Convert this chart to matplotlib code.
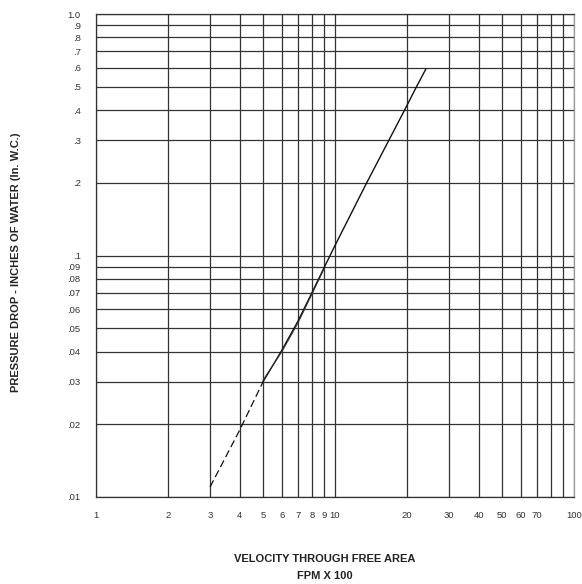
import matplotlib
matplotlib.use("Agg")
import matplotlib.pyplot as plt
from matplotlib.ticker import FixedLocator, NullLocator

plt.rcParams['font.family'] = ['Liberation Sans', 'DejaVu Sans']

# Data
dashed_x = [3.0, 4.0, 5.0]
dashed_y = [0.011, 0.019, 0.030]
solid_x = [5.0, 6.0, 7.0, 8.0, 9.0, 10.0, 13.5, 16.8, 19.6, 22.0, 24.0]
solid_y = [0.030, 0.0406, 0.0535, 0.0700, 0.0890, 0.110, 0.198, 0.300, 0.402, 0.503, 0.592]
second_x = [5.0, 6.0, 7.0, 8.0, 9.0]
second_y = [0.0305, 0.0400, 0.0525, 0.0690, 0.0880]

x_ticks = [1, 2, 3, 4, 5, 6, 7, 8, 9, 10, 20, 30, 40, 50, 60, 70, 80, 90, 100]
x_labels = ['1', '2', '3', '4', '5', '6', '7', '8', '9', '10', '20', '30', '40', '50', '60', '70', '', '', '100']
y_ticks = [0.01, 0.02, 0.03, 0.04, 0.05, 0.06, 0.07, 0.08, 0.09,
           0.1, 0.2, 0.3, 0.4, 0.5, 0.6, 0.7, 0.8, 0.9, 1.0]
y_labels = ['.01', '.02', '.03', '.04', '.05', '.06', '.07', '.08', '.09',
            '.1', '.2', '.3', '.4', '.5', '.6', '.7', '.8', '.9', '1.0']

fig = plt.figure(figsize=(5.82, 5.84), dpi=100)
W, H = 582, 584
ax = fig.add_axes([96 / W, 1 - 497 / H, (574 - 96) / W, (497 - 14) / H])
ax.set_xscale('log')
ax.set_yscale('log')
ax.set_xlim(1, 100)
ax.set_ylim(0.01, 1.0)

grid_color = '#333333'
ax.xaxis.set_major_locator(FixedLocator(x_ticks))
ax.xaxis.set_minor_locator(NullLocator())
ax.yaxis.set_major_locator(FixedLocator(y_ticks))
ax.yaxis.set_minor_locator(NullLocator())
ax.set_xticklabels(x_labels)
ax.set_yticklabels(y_labels)
ax.tick_params(axis='both', which='both', length=0, labelsize=6.8, colors='#333333')
ax.tick_params(axis='x', pad=10)
ax.tick_params(axis='y', pad=11)
ax.grid(True, which='major', color=grid_color, linewidth=0.9)
for s in ax.spines.values():
    s.set_color(grid_color)
    s.set_linewidth(0.9)
ax.spines['right'].set_color('#999999')

ax.plot(dashed_x, dashed_y, color='#111111', linewidth=0.9, linestyle=(0, (6, 3)), zorder=3)
ax.plot(solid_x, solid_y, color='#111111', linewidth=1.0, zorder=3)
ax.plot(second_x, second_y, color='#333333', linewidth=0.7, zorder=3)

fig.text(325 / W, 1 - 559 / H, 'VELOCITY THROUGH FREE AREA', ha='center', va='center',
         fontsize=8, fontweight='bold', color='#222222')
fig.text(325 / W, 1 - 576 / H, 'FPM X 100', ha='center', va='center',
         fontsize=8, fontweight='bold', color='#222222')
fig.text(16 / W, 1 - 262 / H, 'PRESSURE DROP - INCHES OF WATER (In. W.C.)', ha='center', va='center',
         rotation=90, fontsize=8, fontweight='bold', color='#222222')

fig.savefig('out.png', dpi=100)
